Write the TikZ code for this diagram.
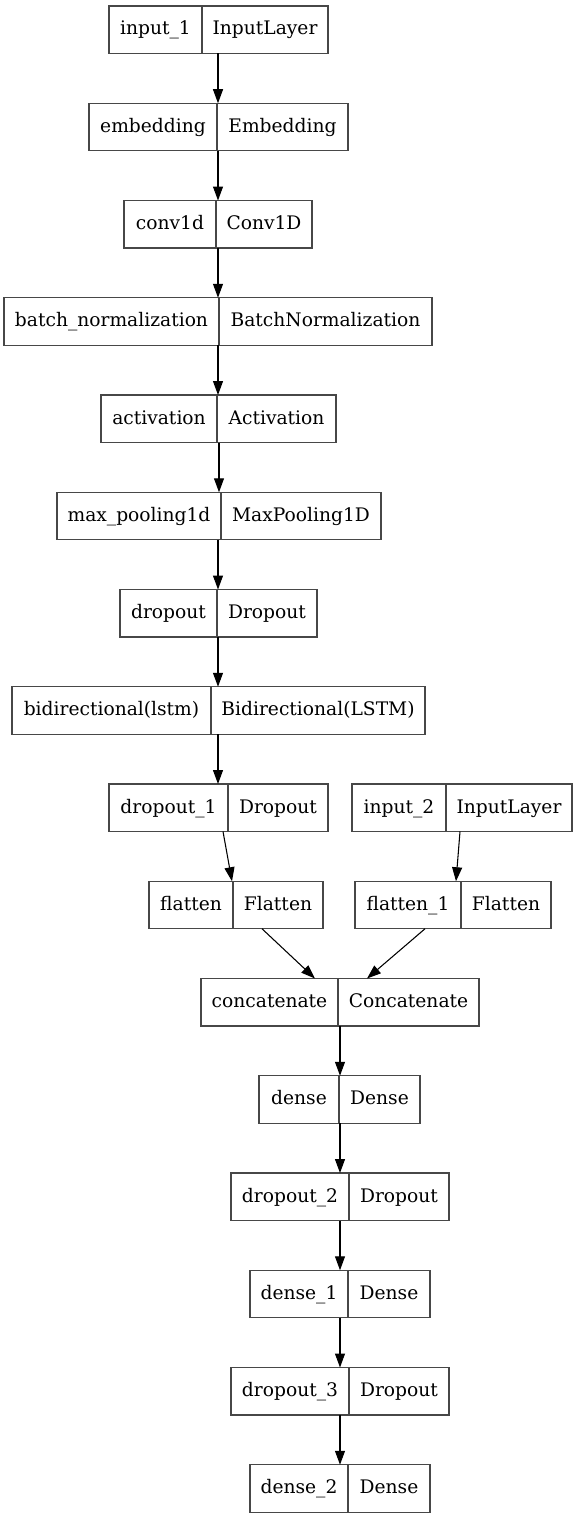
\documentclass[tikz,border=0pt]{standalone}
\usepackage{fontspec}
\setmainfont{DejaVu Serif}
\usetikzlibrary{arrows.meta}

% One layer box: id, left x, divider x, right x, top y, name, class
\newcommand\layer[7]{%
  \pgfmathsetmacro\lw{(#4-#2)*0.75}%
  \node[box, minimum width=\lw pt] (#1) at ({(#2+#4)/2},{#5+23.75}) {};
  \draw[boxline] (#1.north -| #3,0) -- (#1.south -| #3,0);
  \node[lbl] (#1-l) at ({(#2+#3)/2},{#5+29}) {#6};
  \node[lbl] (#1-r) at ({(#3+#4)/2},{#5+29}) {#7};
}

\begin{document}
\begin{tikzpicture}[x=0.75pt,y=-0.75pt,
  box/.style={draw=black!72, line width=0.9pt, rectangle, inner sep=0pt,
    outer sep=0pt, minimum height=35.625pt},
  boxline/.style={draw=black!72, line width=0.9pt},
  lbl/.style={inner sep=0pt, anchor=base, font=\fontsize{14}{16}\selectfont, text=black},
  arr/.style={draw=black, line width=0.8pt,
    -{Triangle[length=10.5pt,width=7.5pt]}}]
\useasboundingbox (0,0) rectangle (578,1520);
\fill[white] (0,0) rectangle (578,1520);

\layer{in1}{109}{202}{328}{6}{input\_1}{InputLayer}
\layer{emb}{89}{217}{348}{103.25}{embedding}{Embedding}
\layer{conv}{124}{216}{312}{200.5}{conv1d}{Conv1D}
\layer{bn}{4}{219}{432}{297.75}{batch\_normalization}{BatchNormalization}
\layer{act}{101}{217}{336}{395}{activation}{Activation}
\layer{mp}{57}{221}{381}{492.25}{max\_pooling1d}{MaxPooling1D}
\layer{drop}{120}{217}{317}{589.5}{dropout}{Dropout}
\layer{bidir}{12}{211}{425}{686.75}{bidirectional(lstm)}{Bidirectional(LSTM)}
\layer{dropa}{109}{228}{328}{784}{dropout\_1}{Dropout}
\layer{in2}{352}{446}{572}{784}{input\_2}{InputLayer}
\layer{flat}{149}{233}{323}{881.25}{flatten}{Flatten}
\layer{flata}{355}{461}{551}{881.25}{flatten\_1}{Flatten}
\layer{cat}{201}{338}{479}{978.5}{concatenate}{Concatenate}
\layer{dense}{259}{339}{420}{1075.75}{dense}{Dense}
\layer{dropb}{231}{349}{449}{1173}{dropout\_2}{Dropout}
\layer{densea}{250}{348}{430}{1270.25}{dense\_1}{Dense}
\layer{dropc}{231}{349}{449}{1367.5}{dropout\_3}{Dropout}
\layer{denseb}{250}{348}{430}{1464.75}{dense\_2}{Dense}

% connections
\draw[arr] (in1.south -| 218,0) -- (emb.north -| 218,0);
\draw[arr] (emb.south -| 218,0) -- (conv.north -| 218,0);
\draw[arr] (conv.south -| 218,0) -- (bn.north -| 218,0);
\draw[arr] (bn.south -| 218,0) -- (act.north -| 218,0);
\draw[arr] (act.south -| 219,0) -- (mp.north -| 219,0);
\draw[arr] (mp.south -| 218,0) -- (drop.north -| 218,0);
\draw[arr] (drop.south -| 218,0) -- (bidir.north -| 218,0);
\draw[arr] (bidir.south -| 218,0) -- (dropa.north -| 218,0);
\draw[arr] (dropa.south -| 223,0) -- (flat.north -| 232,0);
\draw[arr] (in2.south -| 460,0) -- (flata.north -| 456,0);
\draw[arr] (flat.south -| 262,0) -- (cat.north -| 315,0);
\draw[arr] (flata.south -| 425,0) -- (cat.north -| 367,0);
\draw[arr] (cat.south -| 340,0) -- (dense.north -| 340,0);
\draw[arr] (dense.south -| 340,0) -- (dropb.north -| 340,0);
\draw[arr] (dropb.south -| 340,0) -- (densea.north -| 340,0);
\draw[arr] (densea.south -| 340,0) -- (dropc.north -| 340,0);
\draw[arr] (dropc.south -| 340,0) -- (denseb.north -| 340,0);
\end{tikzpicture}
\end{document}
